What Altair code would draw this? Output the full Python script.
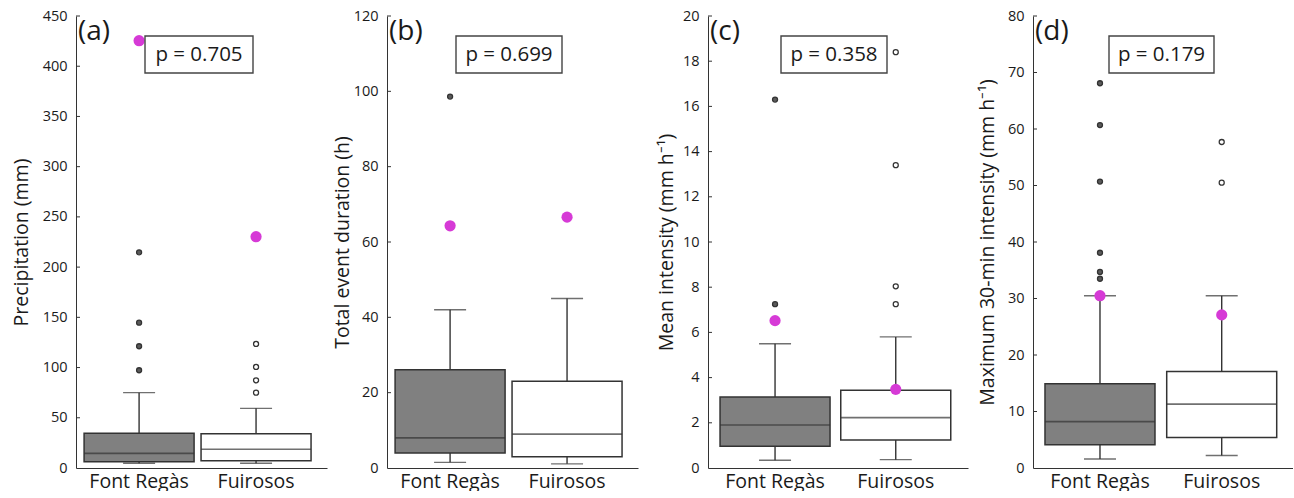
import altair as alt
import pandas as pd

FONT = "Open Sans"
sites = ["Font Regàs", "Fuirosos"]

letters = ["(a)", "(b)", "(c)", "(d)"]
y_titles = ["Precipitation (mm)", "Total event duration (h)",
            "Mean intensity (mm h⁻¹)", "Maximum 30-min intensity (mm h⁻¹)"]
p_values = ["p = 0.705", "p = 0.699", "p = 0.358", "p = 0.179"]
y_max = [450, 120, 20, 80]
y_step = [50, 20, 2, 10]

# box statistics per panel: [Font Regàs, Fuirosos]
lower = [[4.7, 4.7], [1.5, 1.1], [0.34, 0.37], [1.6, 2.2]]
q1 = [[6.3, 7.3], [4.0, 3.0], [0.96, 1.24], [4.1, 5.4]]
median = [[14.6, 18.6], [8.0, 9.0], [1.90, 2.23], [8.2, 11.3]]
q3 = [[34.5, 34.2], [26.1, 23.0], [3.14, 3.44], [14.9, 17.1]]
upper = [[75, 59.4], [42.0, 45.0], [5.50, 5.80], [30.5, 30.5]]

# outliers per panel
out_fr = [[214.7, 144.7, 121.2, 97.3], [98.6], [16.3, 7.25], [68.1, 60.7, 50.7, 38.1, 34.7, 33.5]]
out_fu = [[123.5, 100.6, 87.3, 75.0], [], [18.4, 13.4, 8.04, 7.25], [57.7, 50.5]]

# highlighted event (magenta) per panel: [Font Regàs, Fuirosos]
event = [[425.4, 230.3], [64.3, 66.6], [6.52, 3.48], [30.5, 27.1]]

# layout (pixels)
widths = [251, 251, 260, 260]
left_ext = [76, 60, 70, 65]
pad_outer = [0.073, 0.073, 0.077, 0.068]
band_align = [0.27, 0.27, 0.36, 0.37]
title_x = [-55, -45, -42, -46]
pbox = [(69, 177), (69, 175), (73, 179), (76, 181)]
H = 452

AX = "#333333"
TXT = "#1a1a1a"


def panel(i):
    box = pd.DataFrame({
        "site": sites,
        "lower": lower[i], "q1": q1[i], "median": median[i],
        "q3": q3[i], "upper": upper[i],
    })
    outl = pd.DataFrame({
        "site": [sites[0]] * len(out_fr[i]) + [sites[1]] * len(out_fu[i]),
        "v": out_fr[i] + out_fu[i],
    })
    ev = pd.DataFrame({"site": sites, "v": event[i]})
    ticks = pd.DataFrame({"t": list(range(y_step[i], y_max[i] + 1, y_step[i]))})
    ann = pd.DataFrame({"p": [p_values[i]], "l": [letters[i]]})

    yscale = alt.Scale(domain=[0, y_max[i]], nice=False, zero=True)
    yaxis = alt.Axis(title=y_titles[i], values=list(range(0, y_max[i] + 1, y_step[i])),
                     ticks=False, labelPadding=9, labelFontSize=14.5, labelFlush=False,
                     labelFont=FONT, titleFont=FONT,
                     titleFontSize=19.5, titleX=title_x[i], titleBaseline="middle",
                     grid=False, domainColor=AX, labelColor=TXT, titleColor=TXT,
                     titleFontWeight="normal")
    xscale = alt.Scale(domain=sites, paddingInner=0, paddingOuter=pad_outer[i], align=band_align[i])
    xaxis = alt.Axis(title=None, labelAngle=0, ticks=False, labelFontSize=19.5, labelPadding=19,
                     labelBaseline="alphabetic",
                     labelFont=FONT, domainColor=AX, labelColor=TXT, grid=False)

    def X():
        return alt.X("site:N", scale=xscale, axis=xaxis)

    def Y(f):
        return alt.Y(f, type="quantitative", scale=yscale, axis=yaxis)

    colour = alt.Color("site:N", scale=alt.Scale(domain=sites, range=["#808080", "#ffffff"]), legend=None)

    bars = alt.Chart(box).mark_bar(size=110, stroke=AX, strokeWidth=1.5).encode(
        x=X(), y=Y("q1"), y2="q3", color=colour)
    wl = alt.Chart(box).mark_rule(color=AX, strokeWidth=1.4).encode(x=X(), y=Y("lower"), y2="q1")
    wu = alt.Chart(box).mark_rule(color=AX, strokeWidth=1.4).encode(x=X(), y=Y("q3"), y2="upper")
    cap_l = alt.Chart(box).mark_tick(size=32, thickness=1.4, color=AX).encode(x=X(), y=Y("lower"))
    cap_u = alt.Chart(box).mark_tick(size=32, thickness=1.4, color=AX).encode(x=X(), y=Y("upper"))
    med = alt.Chart(box).mark_tick(size=110, thickness=1.6, color=AX).encode(x=X(), y=Y("median"))
    pts = alt.Chart(outl).mark_point(filled=True, size=25, strokeWidth=1.3, stroke=AX, opacity=1).encode(
        x=X(), y=Y("v"),
        fill=alt.Fill("site:N", scale=alt.Scale(domain=sites, range=["#5a5a5a", "#ffffff"]), legend=None))
    evp = alt.Chart(ev).mark_circle(size=125, color="#D63AD6", opacity=1).encode(x=X(), y=Y("v"))
    yt = alt.Chart(ticks).mark_rule(color=AX, strokeWidth=1).encode(
        y=Y("t"), x=alt.value(0), x2=alt.value(4))
    prect = alt.Chart(ann).mark_rect(fill="white", stroke="#444444", strokeWidth=1.4).encode(
        x=alt.value(pbox[i][0]), x2=alt.value(pbox[i][1]), y=alt.value(20), y2=alt.value(57))
    ptxt = alt.Chart(ann).mark_text(font=FONT, fontSize=20.5, color=TXT, align="center", baseline="middle").encode(
        x=alt.value((pbox[i][0] + pbox[i][1]) / 2), y=alt.value(39), text="p:N")
    ltxt = alt.Chart(ann).mark_text(font=FONT, fontSize=28, color=TXT, align="left", baseline="top").encode(
        x=alt.value(2), y=alt.value(2), text="l:N")
    spacer = alt.Chart(ann).mark_rule(opacity=0).encode(
        x=alt.value(-left_ext[i]), x2=alt.value(0), y=alt.value(200))

    return alt.layer(bars, wl, wu, cap_l, cap_u, med, pts, evp, yt, prect, ptxt, ltxt, spacer).properties(
        width=widths[i], height=H)


chart = alt.concat(*[panel(i) for i in range(4)], columns=4, spacing=0, align="none").properties(
    padding={"left": 0, "top": 8, "right": 0, "bottom": 0}, background="white"
).configure_view(stroke=None, strokeWidth=0)

chart.save("out.html", embed_options={"renderer": "svg", "actions": False})
